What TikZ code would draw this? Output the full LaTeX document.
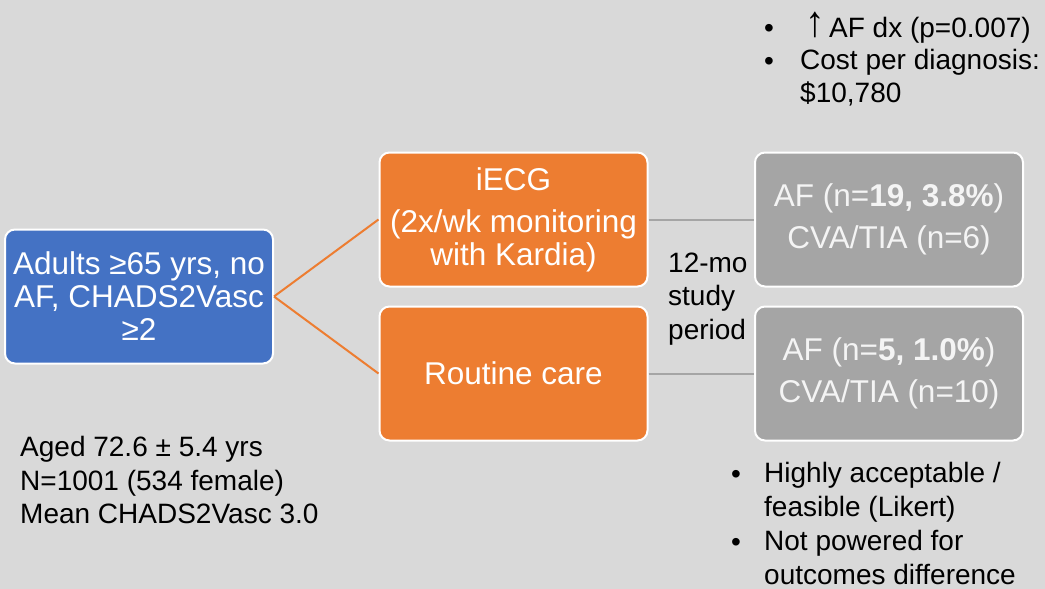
\documentclass[tikz,border=0pt]{standalone}
\usepackage{fontspec}
\setmainfont{Liberation Sans}
\usetikzlibrary{positioning}
\definecolor{slideBg}{HTML}{D9D9D9}
\definecolor{cohortBlue}{HTML}{4472C4}
\definecolor{armOrange}{HTML}{ED7D31}
\definecolor{resGray}{HTML}{A5A5A5}
\definecolor{resText}{HTML}{F4F4F4}

\begin{document}
\begin{tikzpicture}
  [x=1pt,y=-1pt,
   boxN/.style={draw=white,line width=2pt,rounded corners=10pt,minimum width=268pt,
     minimum height=134pt,text=white,align=center,font=\fontsize{31.5}{33}\selectfont},
   cohortN/.style={boxN,fill=cohortBlue},
   armN/.style={boxN,fill=armOrange},
   resN/.style={boxN,fill=resGray,text=resText,font=\fontsize{31.5}{42}\selectfont},
   txtN/.style={inner sep=0pt,anchor=north west,align=left,font=\fontsize{28}{34}\selectfont},
   dotN/.style={txtN,anchor=base west},
   armLine/.style={draw=armOrange,line width=2pt},
   resLine/.style={draw=resGray,line width=2pt},
  ]

 \useasboundingbox (0,0) rectangle (1045,589);
 \fill[slideBg] (0,0) rectangle (1045,589);

 % boxes
 \node[cohortN] (adults) at (139,296.5) {Adults ≥65 yrs, no\\AF, CHADS2Vasc\\≥2};
 \node[armN] (iecg) at (513.5,219.5) {iECG\\[9pt](2x/wk monitoring\\with Kardia)};
 \node[armN] (routine) at (513.5,373.5) {Routine care};
 \node[resN] (resIecg) at (889,219.5) {AF (n=\textbf{19, 3.8\%})\\CVA/TIA (n=6)};
 \node[resN] (resRoutine) at (889,373.5) {AF (n=\textbf{5, 1.0\%})\\CVA/TIA (n=10)};

 % connectors
 \draw[armLine] (adults.east) -- (iecg.west);
 \draw[armLine] (adults.east) -- (routine.west);
 \draw[resLine] (iecg.east) -- (resIecg.west);
 \draw[resLine] (routine.east) -- (resRoutine.west);

 % free text
 \node[txtN,font=\fontsize{28}{33.5}\selectfont] (period) at (668,252.5) {12-mo\\study\\period};
 \node[txtN,font=\fontsize{28}{33.5}\selectfont] (demog) at (20,436.5) {Aged 72.6 ± 5.4 yrs\\N=1001 (534 female)\\Mean CHADS2Vasc 3.0};

 \node[dotN] (dotUp) at (764,37) {•};
 \node[dotN,anchor=base] (upGlyph) at (815,36) {\scalebox{1.4}[1.55]{↑}};
 \node[dotN] (upAF) at (829,37) {AF dx (p=0.007)};
 \node[dotN] (dotCost) at (764,70) {•};
 \node[txtN,font=\fontsize{28}{33}\selectfont] (costDx) at (800,49.5) {Cost per diagnosis:\\\$10,780};

 \node[dotN] (dotAccept) at (731,483) {•};
 \node[txtN] (accept) at (764,462.5) {Highly acceptable /\\feasible (Likert)};
 \node[dotN] (dotPower) at (731,551) {•};
 \node[txtN] (power) at (764,530.5) {Not powered for\\outcomes difference};
\end{tikzpicture}
\end{document}
